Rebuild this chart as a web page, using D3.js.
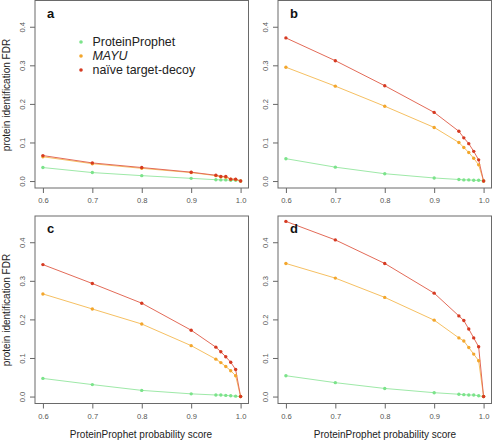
<!DOCTYPE html>
<html><head><meta charset="utf-8">
<script src="https://cdn.jsdelivr.net/npm/d3@7"></script>
<style>body{margin:0;background:#fff}svg{display:block;font-family:"Liberation Sans",Arial,sans-serif}</style>
</head><body><svg id="c" width="492" height="442"></svg>
<script>
const scores = [0.6, 0.7, 0.8, 0.9, 0.95, 0.96, 0.97, 0.98, 0.99, 1.0];
const xTicks = [0.6, 0.7, 0.8, 0.9, 1.0];
const yTicks = [0.0, 0.1, 0.2, 0.3, 0.4];
const seriesNames = ["ProteinProphet", "MAYU", "naïve target-decoy"];
const panelLabels = ["a", "b", "c", "d"];

const aProphet = [0.035, 0.022, 0.014, 0.007, 0.0035, 0.003, 0.003, 0.002, 0.002, 0.0];
const aMayu    = [0.063, 0.045, 0.033, 0.022, 0.014, 0.011, 0.010, 0.005, 0.004, 0.0];
const aNaive   = [0.066, 0.047, 0.035, 0.023, 0.015, 0.012, 0.012, 0.005, 0.005, 0.0];

const bProphet = [0.058, 0.036, 0.019, 0.008, 0.004, 0.003, 0.003, 0.002, 0.002, 0.0];
const bMayu    = [0.295, 0.246, 0.194, 0.139, 0.100, 0.087, 0.074, 0.059, 0.042, 0.0];
const bNaive   = [0.371, 0.312, 0.247, 0.178, 0.129, 0.112, 0.097, 0.077, 0.055, 0.0];

const cProphet = [0.047, 0.031, 0.016, 0.007, 0.004, 0.004, 0.003, 0.002, 0.001, 0.0];
const cMayu    = [0.266, 0.227, 0.188, 0.132, 0.097, 0.088, 0.078, 0.067, 0.054, 0.0];
const cNaive   = [0.342, 0.293, 0.242, 0.172, 0.128, 0.116, 0.103, 0.089, 0.070, 0.0];

const dProphet = [0.054, 0.036, 0.021, 0.010, 0.006, 0.005, 0.004, 0.004, 0.002, 0.0];
const dMayu    = [0.345, 0.307, 0.257, 0.198, 0.152, 0.144, 0.127, 0.110, 0.093, 0.0];
const dNaive   = [0.454, 0.406, 0.345, 0.268, 0.209, 0.197, 0.175, 0.152, 0.129, 0.0];

const panelData = [
  [aProphet, aMayu, aNaive],
  [bProphet, bMayu, bNaive],
  [cProphet, cMayu, cNaive],
  [dProphet, dMayu, dNaive]
];

const pointColors = ["#7be38a", "#f3a62c", "#d63a22"];
const lineColors  = ["#9ee9a8", "#f6c062", "#e36b58"];

const layout = [
  {left: 35, top: 0.5},
  {left: 278, top: 0.5},
  {left: 35, top: 216},
  {left: 278, top: 216}
];
const W = 213.5, H = 187.5;

const svg = d3.select("#c");

layout.forEach((L, i) => {
  const g = svg.append("g").attr("transform", `translate(${L.left},${L.top})`);
  const x = d3.scaleLinear().domain([0.584, 1.016]).range([0, W]);
  const y = d3.scaleLinear().domain([-0.018, 0.468]).range([H, 0]);

  const xa = g.append("g").attr("transform", `translate(0,${H})`)
    .call(d3.axisBottom(x).tickValues(xTicks).tickFormat(d3.format(".1f")).tickSize(5).tickPadding(5));
  xa.select(".domain").remove();
  xa.selectAll("line").attr("stroke", "#666");
  xa.selectAll("text").attr("fill", "#555").attr("font-size", "7.6px").attr("font-family", "Liberation Sans, Arial, sans-serif");

  const ya = g.append("g")
    .call(d3.axisLeft(y).tickValues(yTicks).tickFormat(d3.format(".1f")).tickSize(5));
  ya.select(".domain").remove();
  ya.selectAll("line").attr("stroke", "#666");
  ya.selectAll("text").attr("fill", "#555").attr("font-size", "7.6px")
    .attr("font-family", "Liberation Sans, Arial, sans-serif")
    .attr("x", 0).attr("dy", 0).attr("text-anchor", "middle")
    .attr("transform", "translate(-10,0) rotate(-90)");

  g.append("rect").attr("x", 0).attr("y", 0).attr("width", W).attr("height", H)
    .attr("fill", "none").attr("stroke", "#6a6a6a").attr("stroke-width", 1);

  const series = panelData[i];
  series.forEach((vals, s) => {
    const pts = scores.map((sc, k) => [sc, vals[k]]);
    g.append("path").datum(pts)
      .attr("fill", "none").attr("stroke", lineColors[s]).attr("stroke-width", 1)
      .attr("d", d3.line().x(d => x(d[0])).y(d => y(d[1])));
  });
  series.forEach((vals, s) => {
    g.selectAll(null).data(scores.map((sc, k) => [sc, vals[k]])).enter()
      .append("circle").attr("cx", d => x(d[0])).attr("cy", d => y(d[1])).attr("r", 1.7)
      .attr("fill", pointColors[s]);
  });

  g.append("text").attr("x", 12).attr("y", 17).attr("font-size", "13px").attr("font-weight", "bold")
    .attr("fill", "#111").text(panelLabels[i]);

  if (i === 0) {
    const ly = [42, 56, 70];
    seriesNames.forEach((nm, s) => {
      g.append("circle").attr("cx", 46).attr("cy", ly[s] - L.top).attr("r", 1.8).attr("fill", pointColors[s]);
      g.append("text").attr("x", 57.5).attr("y", ly[s] - L.top).attr("dy", "0.35em")
        .attr("font-size", "12.4px").attr("fill", "#222")
        .attr("font-style", s === 1 ? "italic" : "normal").text(nm);
    });
  }
});

[95, 310].forEach(cy => {
  svg.append("text").attr("transform", `translate(10,${cy}) rotate(-90)`)
    .attr("text-anchor", "middle").attr("font-size", "10px").attr("fill", "#222")
    .text("protein identification FDR");
});
[141, 385].forEach(cx => {
  svg.append("text").attr("x", cx).attr("y", 438).attr("text-anchor", "middle")
    .attr("font-size", "10px").attr("fill", "#222")
    .text("ProteinProphet probability score");
});
</script></body></html>
